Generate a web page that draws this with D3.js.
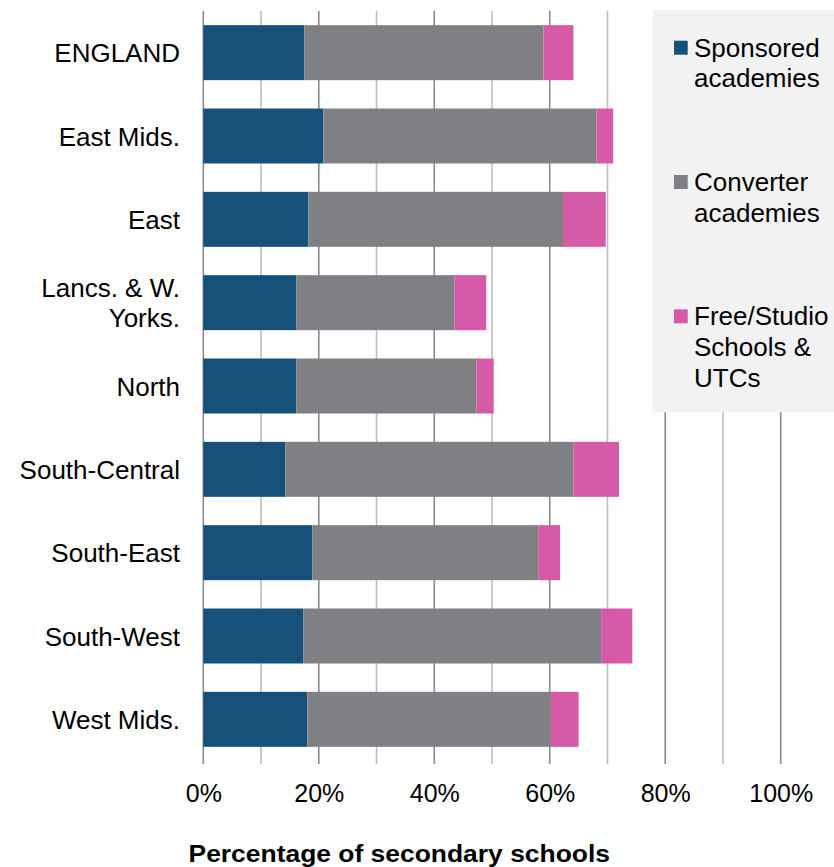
<!DOCTYPE html>
<html>
<head>
<meta charset="utf-8">
<script src="https://cdn.jsdelivr.net/npm/d3@7"></script>
<style>
  html, body { margin: 0; padding: 0; background: #fff; }
  svg { display: block; font-family: "Liberation Sans", Arial, sans-serif; }
</style>
</head>
<body>
<svg id="chart" width="834" height="867"></svg>
<script>
const categories = ["ENGLAND", "East Mids.", "East", "Lancs. & W. Yorks.", "North",
  "South-Central", "South-East", "South-West", "West Mids."];
const sponsored = [17.5, 20.8, 18.2, 16.1, 16.1, 14.2, 18.9, 17.3, 18.0];
const converter = [41.4, 47.3, 44.1, 27.4, 31.2, 49.9, 39.1, 51.6, 42.2];
const freeStudio = [5.2, 2.9, 7.4, 5.5, 3.0, 7.9, 3.8, 5.4, 4.8];
const seriesNames = ["Sponsored academies", "Converter academies", "Free/Studio Schools & UTCs"];
const seriesColors = ["#16517c", "#7f8083", "#d65aa8"];
const tickValues = [0, 20, 40, 60, 80, 100];
const axisTitle = "Percentage of secondary schools";

const svg = d3.select("#chart");
const x = d3.scaleLinear().domain([0, 100]).range([203.3, 780.7]);
const y = d3.scaleBand().domain(categories).range([11, 761]).paddingInner(0.34).paddingOuter(0.17);

const rows = categories.map((c, i) => ({ cat: c, s0: sponsored[i], s1: converter[i], s2: freeStudio[i] }));
const stack = d3.stack().keys(["s0", "s1", "s2"])(rows);

// gridlines
svg.append("g").selectAll("line").data(d3.range(0, 101, 10)).join("line")
  .attr("x1", d => x(d)).attr("x2", d => x(d))
  .attr("y1", 11).attr("y2", 764)
  .attr("stroke", d => (d % 20 === 0 ? "#8a8a8a" : "#bdbdbd"))
  .attr("stroke-width", 1.6);

// bars
svg.append("g").selectAll("g").data(stack).join("g")
  .attr("fill", (d, i) => seriesColors[i])
  .selectAll("rect").data(d => d).join("rect")
  .attr("x", d => x(d[0]))
  .attr("width", d => x(d[1]) - x(d[0]))
  .attr("y", d => y(d.data.cat))
  .attr("height", y.bandwidth());

// wrap helper
function wrapText(textSel, maxW, lineH) {
  textSel.each(function () {
    const t = d3.select(this);
    const words = t.text().split(/\s+/);
    const xPos = t.attr("x");
    t.text(null);
    let lines = [], cur = [];
    const tmp = t.append("tspan").attr("x", xPos);
    words.forEach(w => {
      cur.push(w);
      tmp.text(cur.join(" "));
      if (tmp.node().getComputedTextLength() > maxW && cur.length > 1) {
        cur.pop();
        lines.push(cur.join(" "));
        cur = [w];
      }
    });
    lines.push(cur.join(" "));
    tmp.remove();
    t.datum().__lines = lines.length;
    lines.forEach((l, i) => {
      t.append("tspan").attr("x", xPos).attr("dy", i === 0 ? 0 : lineH).text(l);
    });
  });
}

// category labels
const labels = svg.append("g").selectAll("text").data(categories.map(c => ({ c }))).join("text")
  .attr("x", 180).attr("text-anchor", "end")
  .attr("font-size", 26).attr("fill", "#000")
  .text(d => d.c);
wrapText(labels, 170, 30.6);
labels.attr("y", d => y(d.c) + y.bandwidth() / 2 + 9.5 - (d.__lines - 1) * 30.6 / 2);

// x axis
const xAxis = d3.axisBottom(x).tickValues(tickValues).tickSize(0).tickFormat(d => d + "%");
const ax = svg.append("g").attr("transform", "translate(0,764)").call(xAxis);
ax.select(".domain").remove();
ax.selectAll("text").attr("font-size", 25).attr("fill", "#000")
  .attr("font-family", "'Liberation Sans', Arial, sans-serif")
  .attr("y", 38).attr("dy", 0);

// axis title
svg.append("text").attr("x", 188.5).attr("y", 862).attr("text-anchor", "start")
  .attr("font-size", 23.5).attr("font-weight", "bold").attr("fill", "#000")
  .attr("textLength", 421.5).attr("lengthAdjust", "spacingAndGlyphs")
  .text(axisTitle);

// legend
const lg = svg.append("g");
lg.append("rect").attr("x", 652.7).attr("y", 10).attr("width", 834 - 652.7).attr("height", 402.3)
  .attr("fill", "#f2f2f2");
const legendY = [40.7, 175, 309.3];
const items = lg.selectAll("g.item").data(seriesNames.map((n, i) => ({ n, i }))).join("g").attr("class", "item");
items.append("rect").attr("x", 674).attr("y", d => legendY[d.i]).attr("width", 13.7).attr("height", 14)
  .attr("fill", d => seriesColors[d.i]);
const ltext = items.append("text").attr("x", 694).attr("y", d => legendY[d.i] + 16)
  .attr("font-size", 26).attr("fill", "#000").text(d => d.n);
wrapText(ltext, 140, 30.6);
</script>
</body>
</html>
